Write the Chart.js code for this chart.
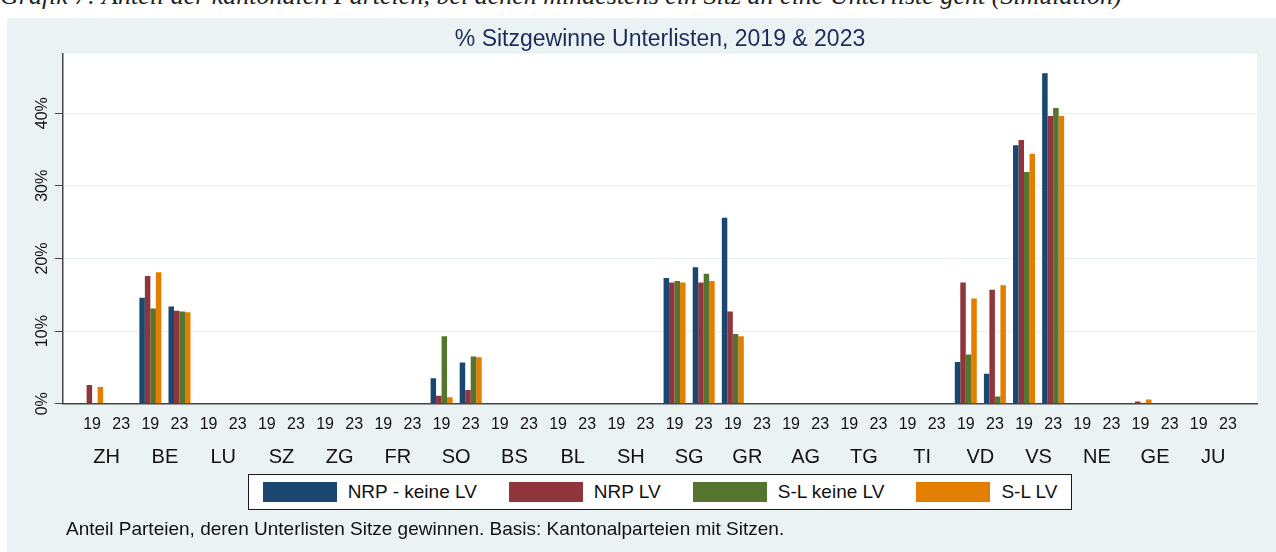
<!DOCTYPE html>
<html>
<head>
<meta charset="utf-8">
<script src="https://cdn.jsdelivr.net/npm/chart.js@4.4.1/dist/chart.umd.min.js"></script>
<style>
  body { margin: 0; width: 1276px; height: 552px; overflow: hidden; background: #fff; position: relative; font-family: 'Liberation Sans', Arial, sans-serif; }
  #caption { position: absolute; left: 0; top: -17px; font-family: 'Liberation Serif', serif; font-style: italic; font-size: 26px; line-height: 26px; white-space: nowrap; color: #222; }
  #panel { position: absolute; left: 7px; top: 18px; right: 0; bottom: 0; background: #eaf2f3; }
  #chart { position: absolute; left: 0; top: 0; }
  #legend { position: absolute; left: 248px; top: 474px; width: 824px; height: 36px; box-sizing: border-box; border: 1.5px solid #1a1a1a; background: #fff; display: flex; align-items: center; justify-content: center; gap: 32px; }
  .item { display: flex; align-items: center; gap: 11px; font-size: 19px; color: #111; }
  .swatch { width: 74px; height: 20px; }
  #note { position: absolute; left: 66px; top: 518px; font-size: 19px; color: #111; white-space: nowrap; }
</style>
</head>
<body>
<div id="caption">Grafik 7: Anteil der kantonalen Parteien, bei denen mindestens ein Sitz an eine Unterliste geht (Simulation)</div>
<div id="panel"></div>
<canvas id="chart" width="1276" height="552"></canvas>
<div id="legend"></div>
<div id="note">Anteil Parteien, deren Unterlisten Sitze gewinnen. Basis: Kantonalparteien mit Sitzen.</div>
<script>
const cantons = ['ZH', 'BE', 'LU', 'SZ', 'ZG', 'FR', 'SO', 'BS', 'BL', 'SH',
                 'SG', 'GR', 'AG', 'TG', 'TI', 'VD', 'VS', 'NE', 'GE', 'JU'];
const years = ['19', '23'];
const seriesNames = ['NRP - keine LV', 'NRP LV', 'S-L keine LV', 'S-L LV'];
const seriesColors = ['#1a476f', '#90353b', '#55752f', '#e37e00'];

// % per canton, pairs 2019, 2023 (same order as cantons)
const nrpKeineLV = [0, 0, 14.6, 13.4, 0, 0, 0, 0, 0, 0, 0, 0, 3.5, 5.7, 0, 0, 0, 0, 0, 0,
                    17.3, 18.8, 25.6, 0, 0, 0, 0, 0, 0, 0, 5.75, 4.15, 35.6, 45.5, 0, 0, 0, 0, 0, 0];
const nrpLV      = [2.6, 0, 17.6, 12.8, 0, 0, 0, 0, 0, 0, 0, 0, 1.1, 1.9, 0, 0, 0, 0, 0, 0,
                    16.7, 16.7, 12.7, 0, 0, 0, 0, 0, 0, 0, 16.7, 15.7, 36.3, 39.6, 0, 0, 0.3, 0, 0, 0];
const slKeineLV  = [0, 0, 13.1, 12.7, 0, 0, 0, 0, 0, 0, 0, 0, 9.3, 6.5, 0, 0, 0, 0, 0, 0,
                    16.9, 17.9, 9.6, 0, 0, 0, 0, 0, 0, 0, 6.8, 1.0, 31.9, 40.7, 0, 0, 0, 0, 0, 0];
const slLV       = [2.3, 0, 18.1, 12.6, 0, 0, 0, 0, 0, 0, 0, 0, 0.9, 6.4, 0, 0, 0, 0, 0, 0,
                    16.7, 16.9, 9.3, 0, 0, 0, 0, 0, 0, 0, 14.5, 16.3, 34.4, 39.6, 0, 0, 0.6, 0, 0, 0];

const yMax = 48.2;

Chart.defaults.font.family = "'Liberation Sans', Arial, sans-serif";

// empty slot at both ends gives the gap inside the plot region
const labels = [''].concat(cantons.flatMap(() => years), ['']);
const allSeries = [nrpKeineLV, nrpLV, slKeineLV, slLV];

const datasets = allSeries.map((values, i) => ({
    label: seriesNames[i],
    data: [null].concat(values, [null]),
    backgroundColor: seriesColors[i],
    borderWidth: 0,
    categoryPercentage: 0.755,
    barPercentage: 1.0,
    xAxisID: 'x',
    yAxisID: 'y'
}));

const plotBackground = {
    id: 'plotBackground',
    beforeDraw(chart) {
        const { ctx, chartArea } = chart;
        ctx.save();
        ctx.fillStyle = '#ffffff';
        ctx.fillRect(chartArea.left, chartArea.top, chartArea.right - chartArea.left, chartArea.bottom - chartArea.top);
        ctx.restore();
    }
};

new Chart(document.getElementById('chart'), {
    type: 'bar',
    data: { labels: labels, datasets: datasets },
    options: {
        responsive: false,
        animation: false,
        layout: { padding: { top: 20, right: 19, bottom: 83, left: 0 } },
        plugins: {
            legend: { display: false },
            tooltip: { enabled: false },
            title: {
                display: true,
                fullSize: false,
                text: '% Sitzgewinne Unterlisten, 2019 & 2023',
                color: '#1c2c5b',
                font: { size: 23, weight: 'normal' },
                padding: { top: 6, bottom: 0 }
            }
        },
        scales: {
            x: {
                type: 'category',
                offset: false,
                weight: 0,
                grid: { display: false, drawTicks: false },
                border: { display: true, color: '#444', width: 1.5 },
                ticks: { autoSkip: false, maxRotation: 0, padding: 11, color: '#111', font: { size: 16 } }
            },
            x2: {
                type: 'linear',
                position: 'bottom',
                offset: false,
                weight: 1,
                min: 0,
                max: labels.length - 1,
                grid: { display: false, drawTicks: false },
                border: { display: false },
                afterBuildTicks: (scale) => {
                    scale.ticks = cantons.map((c, i) => ({ value: 2 * i + 1.5 }));
                },
                ticks: {
                    autoSkip: false,
                    maxRotation: 0,
                    padding: 0,
                    color: '#111',
                    font: { size: 20 },
                    callback: (value, index) => cantons[index]
                }
            },
            y: {
                min: 0,
                max: yMax,
                grid: { color: '#e6eef0', lineWidth: 1, tickLength: 8, tickColor: '#444' },
                border: { display: true, color: '#444', width: 1.5 },
                ticks: {
                    stepSize: 10,
                    includeBounds: false,
                    minRotation: 90,
                    crossAlign: 'center',
                    padding: -4,
                    color: '#111',
                    font: { size: 16 },
                    callback: (value) => value + '%'
                },
                afterFit: (scale) => { scale.width = 63; }
            }
        }
    },
    plugins: [plotBackground]
});

// legend
const legendBox = document.getElementById('legend');
seriesNames.forEach((name, i) => {
    const item = document.createElement('div');
    item.className = 'item';
    const swatch = document.createElement('div');
    swatch.className = 'swatch';
    swatch.style.background = seriesColors[i];
    const text = document.createElement('span');
    text.textContent = name;
    item.appendChild(swatch);
    item.appendChild(text);
    legendBox.appendChild(item);
});
</script>
</body>
</html>
